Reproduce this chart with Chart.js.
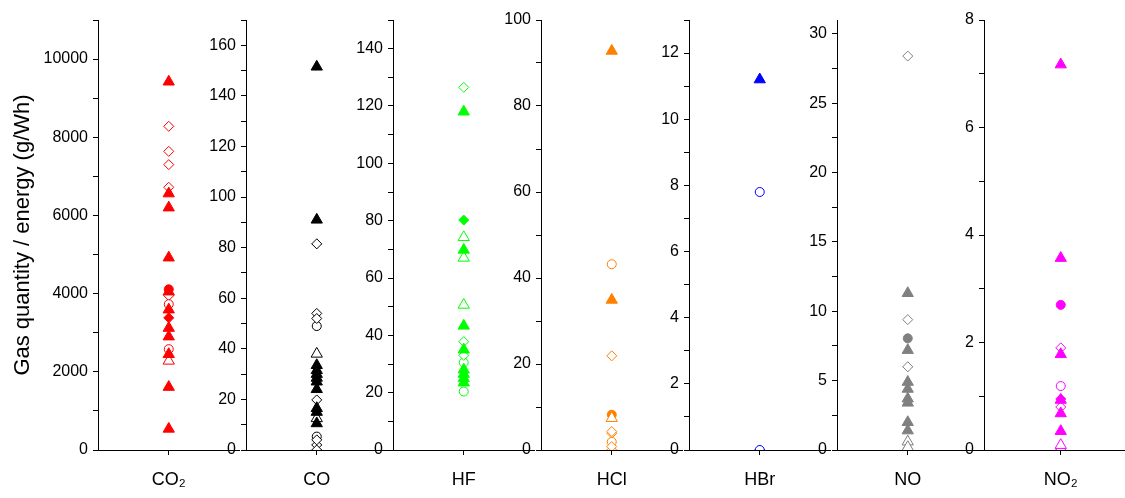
<!DOCTYPE html>
<html>
<head>
<meta charset="utf-8">
<script src="https://cdn.jsdelivr.net/npm/chart.js@4.4.1/dist/chart.umd.min.js"></script>
<style>
  html, body { margin: 0; padding: 0; background: #fff; overflow: hidden; }
  #wrap { position: relative; width: 1125px; height: 498px; }
  #wrap canvas { position: absolute; top: 0; }
</style>
</head>
<body>
<div id="wrap"></div>
<script>
// one panel per gas, each with its own y scale
const gases = ['CO\u2082', 'CO', 'HF', 'HCl', 'HBr', 'NO', 'NO\u2082']
const gasColors = ['#ff0000', '#000000', '#00ff00', '#ff8000', '#0000ff', '#808080', '#ff00ff']
const yMax = [11000, 170, 150, 100, 13, 31, 8]
const majorStep = [2000, 20, 20, 20, 2, 5, 2]
const minorStep = [1000, 10, 10, 10, 1, 2.5, 1]

// values in g/Wh, one list per gas, grouped by marker
const filledTriangle = [
  [9420, 6560, 6200, 4920, 4050, 3590, 3120, 2900, 2450, 1610, 540],
  [151.5, 91, 33.5, 31.5, 30, 28.5, 27, 24, 16.5, 15, 10.5],
  [118, 69.8, 43.3, 35, 28, 26.5, 25, 23.5],
  [92.8, 34.9],
  [11.2],
  [11.3, 7.2, 4.9, 4.4, 3.7, 3.4, 2.0, 1.4],
  [7.17, 3.57, 1.78, 0.93, 0.68, 0.35]
]
const openTriangle = [[2280], [38, 12.5], [74.2, 67, 50.6], [7.4], [], [0.6, 0.2], [0.09]]
const openDiamond = [[8280, 7640, 7300, 6720], [54, 52, 19.8, 4], [126.5, 37.8, 33], [21.9, 4.3, 0.8], [], [28.4, 9.4], [1.9, 0.8, 0]]
const filledDiamond = [[3380], [], [80.2], [], [], [], [0.95]]
const openCircle = [[3730, 2580], [49, 5.3], [30.5, 20.4], [43.2, 1.9], [7.8, 0], [0], [1.19]]
const filledCircle = [[4110], [], [], [8.2], [], [8.05], [2.7]]
const crossDiamond = [[3950], [81.5, 2, 0], [], [3.9, 0], [0], [6.0, 0], [0]]

const markers = [
  { values: filledTriangle, style: 'triangle', radius: 6.5, filled: true },
  { values: openTriangle, style: 'triangle', radius: 6.5, filled: false },
  { values: openDiamond, style: 'rectRot', radius: 5, filled: false },
  { values: filledDiamond, style: 'rectRot', radius: 5, filled: true },
  { values: openCircle, style: 'circle', radius: 4.5, filled: false },
  { values: filledCircle, style: 'circle', radius: 4.5, filled: true },
  { values: crossDiamond, style: 'rectRot', radius: 5, filled: false },
  { values: crossDiamond, style: 'cross', radius: 5, filled: false }
]

Chart.defaults.font.family = '"Liberation Sans", Arial, sans-serif'
Chart.defaults.color = '#000'

const wrap = document.getElementById('wrap')
const firstAxis = 98
const panelWidth = 147.7

gases.forEach((gas, i) => {
  const axisX = firstAxis + i * panelWidth
  const labelSpace = i === 0 ? firstAxis : 60
  const left = axisX - labelSpace
  const width = i === gases.length - 1 ? 1125 - left + 20 : labelSpace + panelWidth + 1

  const canvas = document.createElement('canvas')
  canvas.width = Math.round(width)
  canvas.height = 498
  canvas.style.left = left + 'px'
  canvas.style.width = Math.round(width) + 'px'
  canvas.style.height = '498px'
  wrap.appendChild(canvas)

  const color = gasColors[i]
  const datasets = markers
    .filter(m => m.values[i].length > 0)
    .map(m => ({
      data: m.values[i].map(v => ({ x: gas, y: v })),
      showLine: false,
      pointStyle: m.style,
      pointRadius: m.radius,
      pointHoverRadius: m.radius,
      pointBorderWidth: 1,
      pointBorderColor: color,
      pointBackgroundColor: m.filled ? color : '#fff'
    }))

  const major = majorStep[i]
  const minor = minorStep[i]

  new Chart(canvas, {
    type: 'line',
    data: { labels: [gas], datasets: datasets },
    options: {
      responsive: false,
      animation: false,
      devicePixelRatio: 1,
      layout: { padding: { top: 20, right: 0, bottom: 0, left: 0 } },
      plugins: { legend: { display: false }, tooltip: { enabled: false } },
      scales: {
        x: {
          type: 'category',
          offset: true,
          grid: { drawOnChartArea: false, offset: false, tickLength: 5, tickColor: '#000' },
          border: { color: '#000', width: 1 },
          ticks: { color: '#000', font: { size: 18 }, padding: 14 },
          afterFit: s => { s.height = 48 }
        },
        y: {
          min: 0,
          max: yMax[i],
          grid: { drawOnChartArea: false, tickLength: 5, tickColor: '#000' },
          border: { color: '#000', width: 1 },
          ticks: {
            stepSize: minor,
            includeBounds: false,
            autoSkip: false,
            color: '#000',
            font: { size: 16 },
            padding: 5,
            callback: v => Math.abs(v / major - Math.round(v / major)) < 1e-6 ? String(v) : ''
          },
          afterBuildTicks: s => {
            s.ticks = s.ticks.filter(t => Math.abs(t.value / minor - Math.round(t.value / minor)) < 1e-6)
          },
          afterFit: s => { s.width = labelSpace },
          title: i === 0
            ? { display: true, text: 'Gas quantity / energy (g/Wh)', color: '#000', font: { size: 22 }, padding: { top: 10, bottom: 0 } }
            : { display: false }
        }
      }
    }
  })
})
</script>
</body>
</html>
